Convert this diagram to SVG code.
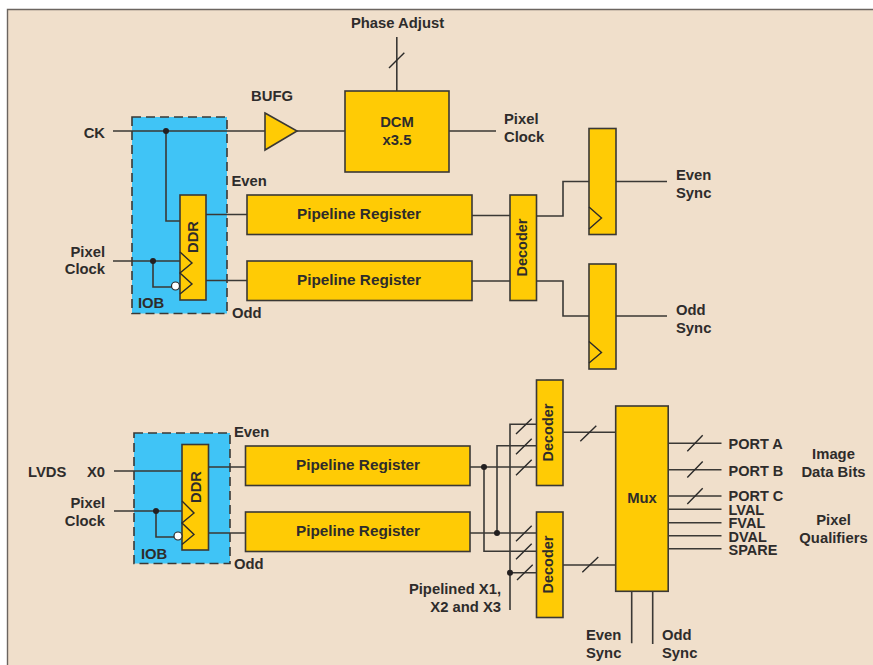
<svg xmlns="http://www.w3.org/2000/svg" width="873" height="665" viewBox="0 0 873 665">
<style>
.w{stroke:#3a3835;stroke-width:1.6;fill:none}
.s{stroke:#2b2a29;stroke-width:1.4;fill:none}
.b{fill:#ffcb05;stroke:#3a3835;stroke-width:1.6}
.iob{fill:#40c4f6;stroke:#3a3835;stroke-width:1.6;stroke-dasharray:9 5}
.d{fill:#231f20}
.o{fill:#fff;stroke:#2b2a29;stroke-width:1.2}
text{font-family:"Liberation Sans",Arial,sans-serif;font-weight:700;font-size:14.8px;fill:#2e2c2b}
.m{text-anchor:middle}
.e{text-anchor:end}
.p{font-size:15.3px}
.n{font-size:14.5px}
</style>
<rect width="873" height="665" fill="#fff"/>
<rect x="7.5" y="9.5" width="866" height="656" fill="#f0dfcb"/>
<path d="M7.5 665V9.5H873" stroke="#6b6560" stroke-width="1.4" fill="none"/>
<g id="iob-top"><rect class="iob" x="132" y="117" width="95" height="196.500"/><text x="138" y="308">IOB</text></g>
<g id="iob-bottom"><rect class="iob" x="134" y="433" width="96" height="130.500"/><text x="141" y="559">IOB</text></g>
<g id="connectors">
<path class="w" d="M113 131H345M449 131H496M396.800 37V91"/>
<path class="s" d="M389 68L404.300 52.700"/>
<path class="w" d="M166 131V221H180M113 261H180M153 261V287H172"/>
<path class="w" d="M206 214.500H247M206 280.500H247M472 215.500H510M472 281H510"/>
<path class="w" d="M536 216H563V181.500H589M616 181.500H667M536 281H563V316H589M616 316H667"/>
<path class="w" d="M114 471H182M114 511H182M156 511V537H174M208 467H245.500M208 533H245.500"/>
<path class="w" d="M470 467H536M470 533H536M484 467V551.300H536M497 533V445.700H536M510 610V424.300H536M510 572.700H536"/>
<path class="s" d="M516 434L531.700 418.700M516 454.300L531.700 438.700M516 475.300L531.700 459.700M516 541.300L531.700 525.700M516 559.300L531.700 543.700M517 580L532.700 564.700"/>
<path class="w" d="M563 432.300H616M563 565H616"/>
<path class="s" d="M580.300 441.300L596.300 425.700M582.300 572.300L598.300 557"/>
<path class="w" d="M668 443.300H721.500M668 469.700H721.500M668 496H721.500M668 509.300H721.500M668 522.700H721.500M668 535.700H721.500M668 548.700H721.500M631.700 591V643.300M652.700 591V644"/>
<path class="s" d="M687.300 451.300L702.700 435.300M687.300 477.600L702.700 461.600M687.300 504L702.700 488.300"/>
<circle class="d" cx="166" cy="131" r="3"/><circle class="d" cx="153" cy="261" r="3"/><circle class="d" cx="156" cy="511" r="3"/>
<circle class="d" cx="484" cy="467" r="3"/><circle class="d" cx="497" cy="533" r="3"/><circle class="d" cx="510" cy="572.700" r="3"/>
</g>
<g id="bufg"><path class="b" d="M265 113L297 131L265 150Z"/><text class="m" x="272" y="101">BUFG</text></g>
<g id="dcm"><rect class="b" x="345" y="91" width="104" height="81"/><text class="m" x="397" y="127">DCM</text><text class="m" x="397" y="145">x3.5</text></g>
<g id="ddr-top"><rect class="b" x="180" y="195" width="26" height="105"/><path class="s" d="M180 252L192 263L180 273L192 284L180 294"/><circle class="o" cx="175.500" cy="286" r="4"/><text class="m" transform="translate(198 237) rotate(-90)">DDR</text></g>
<g id="ddr-bottom"><rect class="b" x="182" y="444.500" width="26.500" height="105.500"/><path class="s" d="M182 501L194 513L182 523L194 534.500L182 544.500"/><circle class="o" cx="178" cy="536" r="4"/><text class="m" transform="translate(201 487) rotate(-90)">DDR</text></g>
<g id="pipe-1"><rect class="b" x="247" y="195" width="225" height="39.500"/><text class="m p" x="359" y="219">Pipeline Register</text></g>
<g id="pipe-2"><rect class="b" x="247" y="261" width="225" height="39.500"/><text class="m p" x="359" y="285">Pipeline Register</text></g>
<g id="pipe-3"><rect class="b" x="245.500" y="446" width="224.500" height="39.500"/><text class="m p" x="358" y="470">Pipeline Register</text></g>
<g id="pipe-4"><rect class="b" x="245.500" y="512" width="224.500" height="39.500"/><text class="m p" x="358" y="536">Pipeline Register</text></g>
<g id="decoder-1"><rect class="b" x="510" y="195" width="26.500" height="105.500"/><text class="m n" transform="translate(526.500 247.500) rotate(-90)">Decoder</text></g>
<g id="decoder-2"><rect class="b" x="536.500" y="380" width="26.500" height="105.500"/><text class="m n" transform="translate(553 432.500) rotate(-90)">Decoder</text></g>
<g id="decoder-3"><rect class="b" x="536.500" y="512" width="26.500" height="105.500"/><text class="m n" transform="translate(553 564.500) rotate(-90)">Decoder</text></g>
<g id="ff-1"><rect class="b" x="589" y="128.500" width="27" height="106"/><path class="s" d="M589 207L601.500 218L589 229"/></g>
<g id="ff-2"><rect class="b" x="589" y="264" width="27" height="105"/><path class="s" d="M589 341.500L601.500 352.500L589 363"/></g>
<g id="mux"><rect class="b" x="615.700" y="406" width="52.500" height="185.300"/><text class="m" x="642" y="503">Mux</text></g>
<g id="labels">
<text class="m" x="397.500" y="28">Phase Adjust</text>
<text class="e" x="105" y="138">CK</text>
<text x="504" y="124">Pixel</text><text x="504" y="142">Clock</text>
<text x="231.500" y="186">Even</text><text x="232" y="318">Odd</text>
<text x="676" y="180">Even</text><text x="676" y="198">Sync</text>
<text x="676" y="315">Odd</text><text x="676" y="333">Sync</text>
<text class="e" x="105" y="257">Pixel</text><text class="e" x="105" y="274">Clock</text>
<text x="234" y="437">Even</text><text x="234" y="569">Odd</text>
<text x="28" y="477">LVDS</text><text x="87" y="477">X0</text>
<text class="e" x="105" y="508">Pixel</text><text class="e" x="105" y="526">Clock</text>
<text class="e" x="501" y="594">Pipelined X1,</text><text class="e" x="501" y="612">X2 and X3</text>
<text x="586" y="640">Even</text><text x="586" y="658">Sync</text>
<text x="662" y="640">Odd</text><text x="662" y="658">Sync</text>
<text class="n" x="728.500" y="449">PORT A</text><text class="n" x="728.500" y="476">PORT B</text><text class="n" x="728.500" y="501">PORT C</text>
<text class="n" x="728.500" y="515">LVAL</text><text class="n" x="728.500" y="528">FVAL</text><text class="n" x="728.500" y="542">DVAL</text><text class="n" x="728.500" y="555">SPARE</text>
<text class="m" x="833.500" y="459">Image</text><text class="m" x="833.500" y="477">Data Bits</text>
<text class="m" x="833.500" y="525">Pixel</text><text class="m" x="833.500" y="543">Qualifiers</text>
</g>
</svg>
